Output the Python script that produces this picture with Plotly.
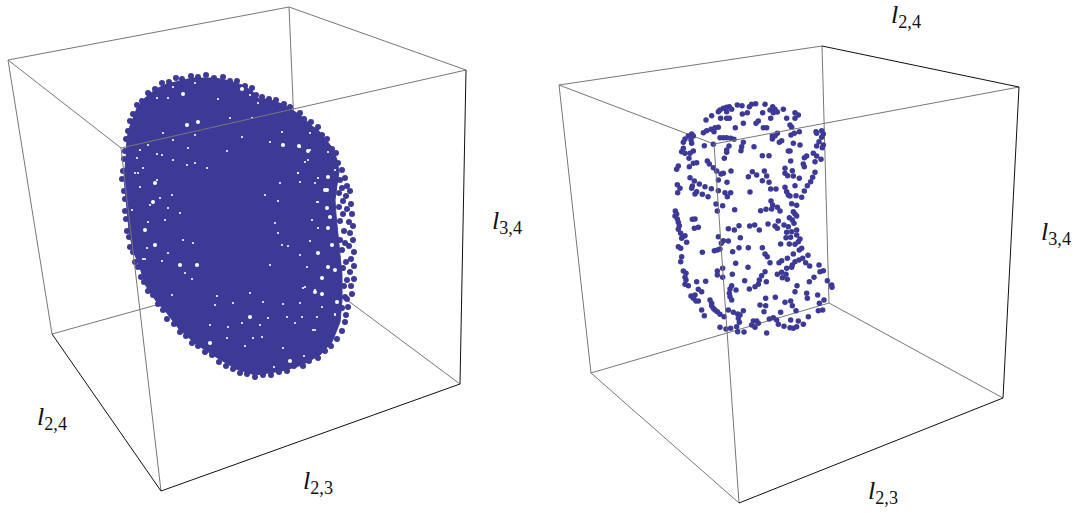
"""Two projected 3D point clouds in wireframe boxes, l2,3 / l2,4 / l3,4 axes."""
import numpy as np
import plotly.graph_objects as go

W, H = 1079, 513
BLUE = "#3d3a97"
GREY = "#777777"
BLACK = "#111111"

# box corners as seen on the page
left_top = dict(a=(8, 60), b=(289, 7), c=(466, 70), d=(121, 148))
left_bot = dict(a=(52, 334), b=(300, 265), c=(460, 384), d=(161, 491))
right_top = dict(a=(559, 85), b=(822, 46), c=(1019, 87), d=(714, 144))
right_bot = dict(a=(591, 373), b=(829, 303), c=(1003, 398), d=(739, 503))

# left cloud: solid core outline
core_outline = [
    (190, 78), (215, 78), (230, 81), (242, 85), (252, 91), (259, 99), (268, 99), (282, 104),
    (292, 110), (300, 115), (312, 126), (318, 130), (327, 141), (333, 149), (337, 160), (339, 172),
    (337, 185), (335, 200), (336, 215), (338, 235), (340, 255), (342, 275), (342, 300), (340, 322),
    (332, 342), (320, 355), (302, 365), (282, 371), (255, 375), (236, 369), (216, 357), (196, 344),
    (179, 329), (166, 312), (156, 301), (146, 286), (138, 262), (133, 251), (129, 230), (126, 198),
    (124, 178), (126, 158), (127, 138), (130, 126), (137, 108), (145, 98), (156, 89), (169, 83),
]

# left cloud: points along the rim
rim_points = [
    (182, 79), (191, 76), (198, 77), (206, 75), (214, 78), (223, 77), (230, 81), (237, 81), (245, 86),
    (252, 88), (256, 95), (262, 97), (269, 99), (276, 100), (284, 104), (290, 107), (300, 113), (304, 119),
    (311, 122), (318, 127), (322, 135), (327, 139), (332, 149), (336, 153), (338, 163), (342, 170),
    (345, 178), (347, 186), (350, 191), (346, 196), (351, 204), (347, 209), (352, 214), (349, 222),
    (353, 226), (350, 233), (353, 240), (349, 246), (354, 252), (351, 259), (354, 266), (350, 272),
    (354, 279), (351, 286), (352, 294), (347, 299), (348, 307), (346, 315), (345, 322), (342, 331),
    (337, 339), (331, 346), (325, 351), (318, 358), (309, 361), (303, 366), (294, 366), (287, 371),
    (279, 372), (271, 375), (263, 375), (255, 377), (247, 374), (240, 373), (233, 369), (226, 366),
    (219, 362), (212, 355), (205, 352), (198, 346), (192, 343), (186, 336), (180, 332), (174, 324),
    (167, 319), (163, 310), (158, 304), (153, 295), (148, 291), (144, 282), (141, 277), (138, 267),
    (135, 262), (133, 252), (130, 247), (129, 237), (127, 231), (126, 219), (125, 211), (125, 199),
    (124, 191), (122, 179), (123, 171), (124, 159), (125, 151), (126, 139), (128, 131), (130, 121),
    (133, 114), (137, 105), (142, 101), (148, 93), (155, 89), (162, 83), (169, 82), (176, 78),
    # second row on the loose right side
    (340, 180), (342, 188), (339, 193), (343, 201), (339, 207), (343, 214), (340, 221), (344, 231),
    (340, 240), (345, 243), (342, 250), (346, 262), (343, 268), (347, 280), (344, 286), (345, 297),
    (342, 308),
]

# left cloud: gaps between points, shown as white flecks
gap_large = [
    (183, 94), (198, 122), (187, 125), (242, 89), (283, 145), (299, 146), (308, 151), (327, 190), (328, 177),
    (325, 190), (327, 208), (330, 217), (328, 228), (332, 245), (318, 253), (328, 267), (335, 270),
    (322, 278), (315, 292), (322, 294), (337, 302), (155, 183), (153, 202), (180, 265), (197, 265), (210, 343),
    (290, 361), (250, 317), (145, 230), (155, 245),
]
gap_small = [
    (230, 118), (218, 99), (163, 133), (173, 140), (188, 148), (195, 163), (137, 158), (138, 173), (172, 195),
    (180, 213), (305, 162), (317, 202), (278, 201), (265, 195), (280, 183), (298, 173), (300, 182), (318, 178),
    (270, 142), (282, 132), (310, 133), (168, 253), (185, 273), (145, 259), (217, 296), (215, 305), (228, 327),
    (260, 325), (283, 304), (245, 346), (274, 367), (304, 356), (315, 330), (335, 315), (315, 290), (288, 246),
    (278, 233), (275, 223), (318, 202), (312, 220), (318, 228), (308, 160), (298, 173), (300, 147), (310, 150),
    (328, 152), (335, 170), (315, 183), (305, 287), (322, 307), (335, 314),
    (317, 317), (302, 317), (313, 330), (310, 241), (140, 150), (148, 145), (157, 154),
    (162, 155), (135, 173), (143, 168), (157, 180), (140, 187), (150, 205), (160, 198), (168, 208), (132, 210),
    (165, 220), (148, 222), (173, 160), (187, 165), (207, 168), (227, 151), (242, 137), (195, 135), (252, 118),
    (258, 103), (168, 98), (157, 98), (173, 87), (195, 83), (250, 95), (147, 248), (193, 243), (183, 240),
    (143, 259), (162, 261), (192, 279), (172, 295), (250, 293), (233, 303), (263, 302), (300, 303), (268, 318),
    (287, 317), (295, 323), (253, 338), (227, 338), (262, 337), (283, 348), (242, 323), (210, 325), (303, 288),
    (322, 295), (307, 267), (300, 255), (282, 245), (270, 265),
]

# right cloud, read from the upper and lower halves at 3x
right_upper = [
    (287, 41), (275, 43), (268, 50), (232, 45), (246, 47), (315, 43), (338, 50), (345, 58), (352, 66), (340, 68),
    (330, 60), (370, 58), (405, 68), (415, 75), (405, 85), (380, 85), (308, 68), (262, 68), (247, 72), (208, 50),
    (200, 52), (190, 55), (180, 60), (175, 65), (200, 65), (215, 58), (155, 77), (138, 90), (182, 85), (200, 85),
    (208, 85), (250, 100), (295, 93), (288, 100), (332, 85), (226, 113), (175, 112), (165, 113), (153, 118),
    (140, 122), (130, 128), (162, 125), (310, 113), (320, 113), (390, 105), (395, 112), (418, 125), (403, 130),
    (393, 135), (352, 130), (345, 138), (337, 138), (337, 147), (365, 152), (358, 157), (400, 160), (420, 165),
    (468, 125), (470, 130), (485, 122), (490, 132), (485, 142), (477, 155), (470, 168), (490, 165), (487, 173),
    (180, 143), (190, 143), (200, 143), (212, 145), (222, 148), (95, 132), (85, 138), (100, 138), (75, 147),
    (70, 157), (93, 150), (95, 160), (160, 163), (133, 167), (207, 168), (250, 157), (245, 170), (243, 182),
    (200, 180), (200, 187), (282, 170), (70, 175), (65, 185), (75, 190), (90, 190), (100, 183), (87, 205),
    (193, 205), (307, 197), (327, 197), (385, 183), (390, 183), (392, 213), (440, 198), (433, 203), (460, 190),
    (470, 198), (465, 215), (483, 208), (430, 222), (433, 230), (142, 213), (148, 222), (160, 233), (110, 218),
    (100, 220), (88, 230), (55, 228), (50, 238), (170, 243), (213, 243), (277, 245), (313, 243), (290, 255),
    (265, 260), (320, 258), (307, 272), (327, 277), (375, 235), (397, 242), (375, 250), (383, 257), (400, 258),
    (418, 265), (465, 247), (458, 262), (452, 275), (442, 287), (433, 303), (175, 270), (183, 252), (190, 250),
    (90, 263), (103, 273), (118, 282), (135, 290), (154, 296), (201, 277), (52, 284), (60, 295), (53, 308),
    (97, 288), (95, 295), (110, 305), (105, 312), (127, 313), (144, 320), (175, 302), (195, 308), (212, 308),
    (202, 320), (270, 306), (332, 297), (348, 297), (375, 292), (405, 287), (380, 305), (385, 315), (390, 318),
    (408, 317), (425, 322), (333, 333), (338, 345), (352, 352), (360, 363), (168, 342), (188, 347), (224, 359),
    (172, 363), (46, 363), (50, 372), (302, 362), (318, 358), (335, 357), (395, 341), (410, 346), (400, 365),
    (405, 372),
]
right_lower = [
    (45, 3), (52, 12), (55, 22), (58, 32), (55, 43), (62, 55), (75, 62), (65, 70), (80, 82), (55, 95), (62, 100),
    (65, 125), (62, 140), (70, 168), (78, 175), (75, 187), (78, 195), (75, 208), (85, 212), (110, 200), (137, 199),
    (115, 223), (125, 230), (105, 240), (93, 243), (100, 250), (108, 258), (115, 258), (150, 255), (155, 265),
    (155, 272), (160, 280), (165, 285), (172, 290), (180, 298), (192, 305), (125, 285), (133, 302), (205, 285),
    (220, 292), (233, 297), (240, 300), (250, 287), (235, 310), (238, 322), (230, 335), (212, 340), (198, 342),
    (180, 337), (233, 350), (252, 351), (320, 354), (285, 337), (275, 330), (290, 318), (295, 325), (280, 318),
    (328, 312), (340, 308), (350, 315), (355, 328), (372, 334), (392, 315), (390, 338), (400, 340), (410, 335),
    (415, 318), (430, 328), (445, 305), (362, 292), (312, 290), (300, 270), (317, 272), (317, 250), (346, 247),
    (375, 262), (392, 258), (397, 272), (408, 287), (475, 287), (488, 285), (478, 265), (492, 255), (473, 240),
    (440, 235), (442, 250), (405, 230), (411, 212), (448, 200), (462, 187), (502, 197), (515, 210), (516, 217),
    (477, 150), (490, 167), (480, 170), (437, 143), (449, 153), (444, 121), (428, 130), (417, 135), (405, 140),
    (397, 150), (395, 157), (380, 160), (382, 130), (365, 137), (357, 143), (400, 117), (378, 178), (367, 188),
    (352, 178), (365, 172), (382, 193), (315, 170), (305, 182), (298, 195), (285, 215), (295, 208), (268, 222),
    (319, 200), (254, 197), (264, 157), (227, 145), (217, 178), (188, 160), (172, 168), (172, 180), (188, 187),
    (215, 212), (210, 222), (208, 235), (210, 245), (215, 255), (228, 225), (330, 143), (322, 125), (315, 117),
    (307, 98), (265, 98), (237, 98), (218, 110), (180, 102), (172, 105), (163, 107), (127, 112), (190, 77),
    (184, 85), (205, 78), (175, 65), (241, 68), (205, 41), (223, 45), (237, 32), (269, 33), (284, 30), (298, 45),
    (324, 27), (345, 33), (355, 18), (352, 40), (372, 30), (385, 35), (388, 8), (397, 15), (410, 3), (402, 25),
    (410, 45), (380, 52), (395, 50), (378, 68), (392, 67), (410, 60), (420, 72), (415, 80), (405, 88), (388, 87),
    (362, 87), (425, 100), (418, 105), (97, 13), (105, 12), (103, 40), (115, 37), (68, 65),
]

axis_labels = [
    ("2,4", 52, 418), ("2,3", 318, 482), ("3,4", 507, 222),
    ("2,4", 906, 16), ("3,4", 1056, 233), ("2,3", 883, 492),
]


def crop_points(points, x0, y0):
    arr = np.array(points, dtype=float)
    return x0 + arr[:, 0] / 3, y0 + arr[:, 1] / 3


def add_edges(fig, edges, color, width=1.0):
    xs, ys = [], []
    for p, q in edges:
        xs += [p[0], q[0], None]
        ys += [p[1], q[1], None]
    fig.add_scatter(x=xs, y=ys, mode="lines", line=dict(color=color, width=width), hoverinfo="skip")


def add_cloud_left(fig):
    cx, cy = zip(*core_outline)
    fig.add_scatter(x=cx, y=cy, mode="lines", fill="toself", fillcolor=BLUE,
                    line=dict(color=BLUE, width=1), hoverinfo="skip")
    rx, ry = zip(*rim_points)
    fig.add_scatter(x=rx, y=ry, mode="markers", marker=dict(color=BLUE, size=6))
    for gaps, size in ((gap_large, 4), (gap_small, 2.2)):
        gx, gy = zip(*gaps)
        fig.add_scatter(x=gx, y=gy, mode="markers", marker=dict(color="white", size=size, line=dict(width=0)))


fig = go.Figure()

# back edges sit behind the clouds
t, b = left_top, left_bot
add_edges(fig, [(t["a"], t["b"]), (t["b"], t["c"]), (t["a"], t["d"]), (t["a"], b["a"]), (t["b"], b["b"]),
                (b["a"], b["b"]), (b["b"], b["c"])], GREY)
t, b = right_top, right_bot
add_edges(fig, [(t["a"], t["b"]), (t["a"], t["d"]), (t["a"], b["a"]), (t["b"], b["b"]),
                (b["a"], b["b"]), (b["b"], b["c"]), (b["a"], b["d"])], GREY)

add_cloud_left(fig)

ux, uy = crop_points(right_upper, 660, 90)
lx, ly = crop_points(right_lower, 660, 215)
fig.add_scatter(x=np.r_[ux, lx], y=np.r_[uy, ly], mode="markers", marker=dict(color=BLUE, size=5.5))

# front edges run over the clouds
t, b = left_top, left_bot
add_edges(fig, [(t["d"], t["c"]), (t["d"], b["d"])], GREY)
add_edges(fig, [(t["c"], b["c"]), (b["a"], b["d"]), (b["d"], b["c"])], BLACK)
t, b = right_top, right_bot
add_edges(fig, [(t["d"], t["c"]), (t["d"], b["d"])], GREY)
add_edges(fig, [(t["b"], t["c"]), (t["c"], b["c"]), (b["d"], b["c"])], BLACK)

for sub, x, y in axis_labels:
    fig.add_annotation(x=x, y=y, text=f"<i>l</i><sub>{sub}</sub>", showarrow=False,
                       font=dict(family="Liberation Serif", size=26, color="#111111"))

fig.update_layout(
    width=W, height=H, margin=dict(l=0, r=0, t=0, b=0), showlegend=False,
    paper_bgcolor="white", plot_bgcolor="white",
    xaxis=dict(range=[0, W], visible=False),
    yaxis=dict(range=[H, 0], visible=False),
)

fig.write_html("out.html", config=dict(displayModeBar=False), post_script="document.body.style.margin='0';")
